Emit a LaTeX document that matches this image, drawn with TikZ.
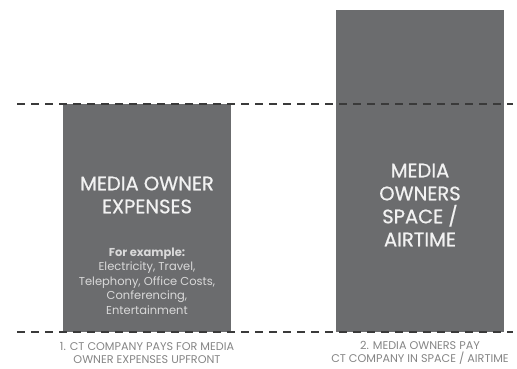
\documentclass[tikz,border=0pt]{standalone}
\usepackage{fontspec}
\setmainfont{Poppins}
\newfontfamily\titlefont[FakeBold=0.7]{Poppins}
\usetikzlibrary{positioning}
\definecolor{boxgray}{HTML}{6B6C6E}
\definecolor{captiongray}{HTML}{858585}
\definecolor{linegray}{HTML}{3A3A3A}
\tikzset{
  costbox/.style={fill=boxgray, draw=none, minimum width=168pt, inner sep=0pt},
  boxtitle/.style={text=white!95!black, align=center, font=\titlefont\fontsize{19.5}{23}\selectfont},
  boxsmall/.style={text=white!85!black, align=center, font=\fontsize{11.5}{14.5}\selectfont},
  caption/.style={text=captiongray, align=center, font=\fontsize{11.2}{13}\selectfont},
  levelline/.style={draw=linegray, line width=1.2pt, dash pattern=on 8pt off 6pt}
}

\begin{document}
\begin{tikzpicture}[x=1pt, y=1pt]
\useasboundingbox (0,0) rectangle (517,369);
	\node[costbox, minimum height=228pt] (expenses) at (147,151) {};
	\node[costbox, minimum height=322pt] (airtime) at (420,198) {};

	\node[boxtitle] (expTitle) at (147,174) {MEDIA OWNER\\EXPENSES};
	\node[boxsmall] (expList) at (147,88) {\textbf{For example:}\\Electricity, Travel,\\Telephony, Office Costs,\\Conferencing,\\Entertainment};
	\node[boxtitle, font=\titlefont\fontsize{19.5}{23}\selectfont] (airTitle) at (420,164) {MEDIA\\OWNERS\\SPACE /\\AIRTIME};

	\node[caption] (capOne) at (147,16) {1. CT COMPANY PAYS FOR MEDIA\\OWNER EXPENSES UPFRONT};
	\node[caption] (capTwo) at (420,16) {2. MEDIA OWNERS PAY\\CT COMPANY IN SPACE / AIRTIME};

	\coordinate (topW) at (17,265);
	\coordinate (topE) at (513,265);
	\coordinate (baseW) at (17,37);
	\coordinate (baseE) at (513,37);

	\draw[levelline] (topW) -- (topE);
	\draw[levelline] (baseW) -- (baseE);

\end{tikzpicture}
\end{document}
